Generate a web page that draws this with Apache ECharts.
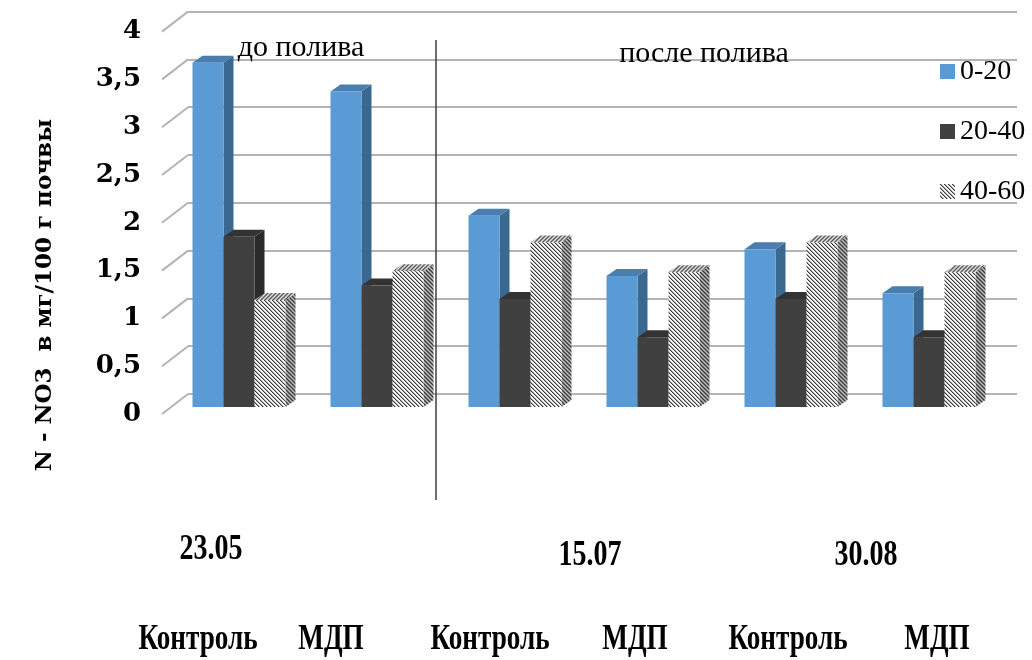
<!DOCTYPE html>
<html>
<head>
<meta charset="utf-8">
<script src="https://cdn.jsdelivr.net/npm/echarts@6/dist/echarts.min.js"></script>
<style>
  html, body { margin: 0; padding: 0; background: #fff; }
  #chart { width: 1032px; height: 660px; }
</style>
</head>
<body>
<div id="chart"></div>
<script>
// N-NO3 content by soil depth, mg per 100 g of soil
const categories = ['Контроль', 'МДП', 'Контроль', 'МДП', 'Контроль', 'МДП'];
const dateLabels = ['23.05', '15.07', '30.08'];
const periodLabels = ['до полива', 'после полива'];
const seriesNames = ['0-20', '20-40', '40-60'];
const depth0_20 = [3.6, 3.3, 2.0, 1.37, 1.65, 1.19];
const depth20_40 = [1.78, 1.27, 1.13, 0.73, 1.13, 0.73];
const depth40_60 = [1.12, 1.42, 1.72, 1.41, 1.72, 1.41];
const yTicks = [0, 0.5, 1, 1.5, 2, 2.5, 3, 3.5, 4];
const yTitle = 'N - NO3  в мг/100 г почвы';

// pseudo-3D bar geometry
const DX = 10, DY = -7;          // depth offset of the bar's back face
const GROUP_FRAC = 93 / 138;     // share of a category band taken by a bar group
const FLOOR_DX = -26, FLOOR_DY = 20; // slant of the grid lines toward the viewer

function makePattern(size, colorAt) {
  const c = document.createElement('canvas');
  c.width = size; c.height = size;
  const ctx = c.getContext('2d');
  for (let y = 0; y < size; y++) {
    for (let x = 0; x < size; x++) {
      ctx.fillStyle = colorAt(x, y);
      ctx.fillRect(x, y, 1, 1);
    }
  }
  return { image: c, repeat: 'repeat' };
}
const mod = (a, n) => ((a % n) + n) % n;
const hatchFront = makePattern(4, (x, y) => ['#383838', '#a8a8a8', '#ffffff', '#eeeeee'][mod(x - y, 4)]);
const hatchSide = makePattern(4, (x, y) => ['#3a3a3a', '#808080', '#bdbdbd', '#808080'][mod(x - y, 4)]);
const hatchTop = makePattern(4, (x, y) => ['#5a5a5a', '#a0a0a0', '#dcdcdc', '#a0a0a0'][mod(x + y, 4)]);

const faces = [
  { front: '#5b9bd5', side: '#3b6890', top: '#4a7db0' },
  { front: '#404040', side: '#2a2a2a', top: '#333333' },
  { front: hatchFront, side: hatchSide, top: hatchTop }
];
const seriesValues = [depth0_20, depth20_40, depth40_60];

function barRenderer(k) {
  const f = faces[k];
  return function (params, api) {
    const idx = api.value(0);
    const v = api.value(1);
    const base = api.coord([idx, 0]);
    const top = api.coord([idx, v]);
    const band = api.size([1, 0])[0];
    const w = band * GROUP_FRAC / 3;
    const x0 = base[0] - 1.5 * w + k * w;
    const x1 = x0 + w;
    return {
      type: 'group',
      children: [
        { type: 'polygon', shape: { points: [[x1, top[1]], [x1 + DX, top[1] + DY], [x1 + DX, base[1] + DY], [x1, base[1]]] }, style: { fill: f.side } },
        { type: 'polygon', shape: { points: [[x0, top[1]], [x0 + DX, top[1] + DY], [x1 + DX, top[1] + DY], [x1, top[1]]] }, style: { fill: f.top } },
        { type: 'rect', shape: { x: x0, y: top[1], width: w, height: base[1] - top[1] }, style: { fill: f.front } }
      ]
    };
  };
}

const serif = 'Liberation Serif, Times New Roman, serif';

const barSeries = seriesNames.map((name, k) => ({
  name: name,
  type: 'custom',
  xAxisIndex: 0,
  yAxisIndex: 0,
  renderItem: barRenderer(k),
  encode: { x: 0, y: 1 },
  itemStyle: { color: faces[k].front },
  data: seriesValues[k].map((v, i) => [i, v]),
  z: 3
}));

// slanted floor segments joining each back-wall grid line to the front
const slantSeries = {
  type: 'custom',
  xAxisIndex: 1,
  yAxisIndex: 1,
  silent: true,
  renderItem: function (params, api) {
    const p = api.coord([0, api.value(1)]);
    return {
      type: 'line',
      shape: { x1: p[0], y1: p[1], x2: p[0] + FLOOR_DX, y2: p[1] + FLOOR_DY },
      style: { stroke: '#b4b4b4', lineWidth: 2 }
    };
  },
  data: yTicks.map(v => [0, v]),
  z: 1
};

const catX = [198, 331, 490, 635, 788, 937];
const dateX = [211, 590, 866];
const dateY = [550, 556, 556];

const graphics = [];
categories.forEach((c, i) => graphics.push({
  type: 'text', x: catX[i], y: 640, z: 100, scaleX: 0.97, scaleY: 1.25,
  style: { text: c, font: 'bold 28px ' + serif, fill: '#000', align: 'center', verticalAlign: 'middle' }
}));
dateLabels.forEach((d, i) => graphics.push({
  type: 'text', x: dateX[i], y: dateY[i], z: 100, scaleX: 1.0, scaleY: 1.25,
  style: { text: d, font: 'bold 28px ' + serif, fill: '#000', align: 'center', verticalAlign: 'middle' }
}));
graphics.push({
  type: 'text', x: 301, y: 48, z: 100,
  style: { text: periodLabels[0], font: '30px ' + serif, fill: '#000', align: 'center', verticalAlign: 'middle' }
});
graphics.push({
  type: 'text', x: 704, y: 54, z: 100,
  style: { text: periodLabels[1], font: '30px ' + serif, fill: '#000', align: 'center', verticalAlign: 'middle' }
});
graphics.push({
  type: 'text', x: 45, y: 295, rotation: Math.PI / 2, z: 100,
  style: { text: yTitle, font: 'bold 23px DejaVu Serif, serif', fill: '#000', align: 'center', verticalAlign: 'middle' }
});
graphics.push({
  type: 'line', z: 50,
  shape: { x1: 436, y1: 40, x2: 436, y2: 500 },
  style: { stroke: '#3c3c3c', lineWidth: 1.5 }
});

const option = {
  animation: false,
  backgroundColor: '#ffffff',
  grid: [
    { left: 170, right: 34, top: 24.6, bottom: 253 },  // front plane of the bars
    { left: 188, right: 15, top: 11.6, bottom: 266 }   // back wall
  ],
  xAxis: [
    { type: 'category', gridIndex: 0, data: categories, show: false },
    { type: 'value', gridIndex: 1, min: 0, max: 1, show: false }
  ],
  yAxis: [
    {
      type: 'value', gridIndex: 0, min: 0, max: 4, interval: 0.5,
      axisLine: { show: false }, axisTick: { show: false }, splitLine: { show: false },
      axisLabel: {
        margin: 29, color: '#000', fontFamily: 'DejaVu Serif', fontWeight: 'bold', fontSize: 26,
        verticalAlign: 'top', lineHeight: 14,
        formatter: v => String(v).replace('.', ',')
      }
    },
    {
      type: 'value', gridIndex: 1, min: 0, max: 4, interval: 0.5,
      axisLine: { show: false }, axisTick: { show: false }, axisLabel: { show: false },
      splitLine: { show: true, lineStyle: { color: '#b4b4b4', width: 2 } }
    }
  ],
  legend: {
    orient: 'vertical',
    left: 935,
    top: 51.5,
    itemWidth: 15,
    itemHeight: 15,
    itemGap: 30,
    data: seriesNames.map((n, k) => ({ name: n, icon: 'rect', itemStyle: { color: faces[k].front } })),
    textStyle: { fontFamily: serif, fontSize: 28, lineHeight: 30, color: '#000' }
  },
  graphic: graphics,
  series: [slantSeries].concat(barSeries)
};

const chart = echarts.init(document.getElementById('chart'), null, { renderer: 'canvas' });
chart.setOption(option);
</script>
</body>
</html>
